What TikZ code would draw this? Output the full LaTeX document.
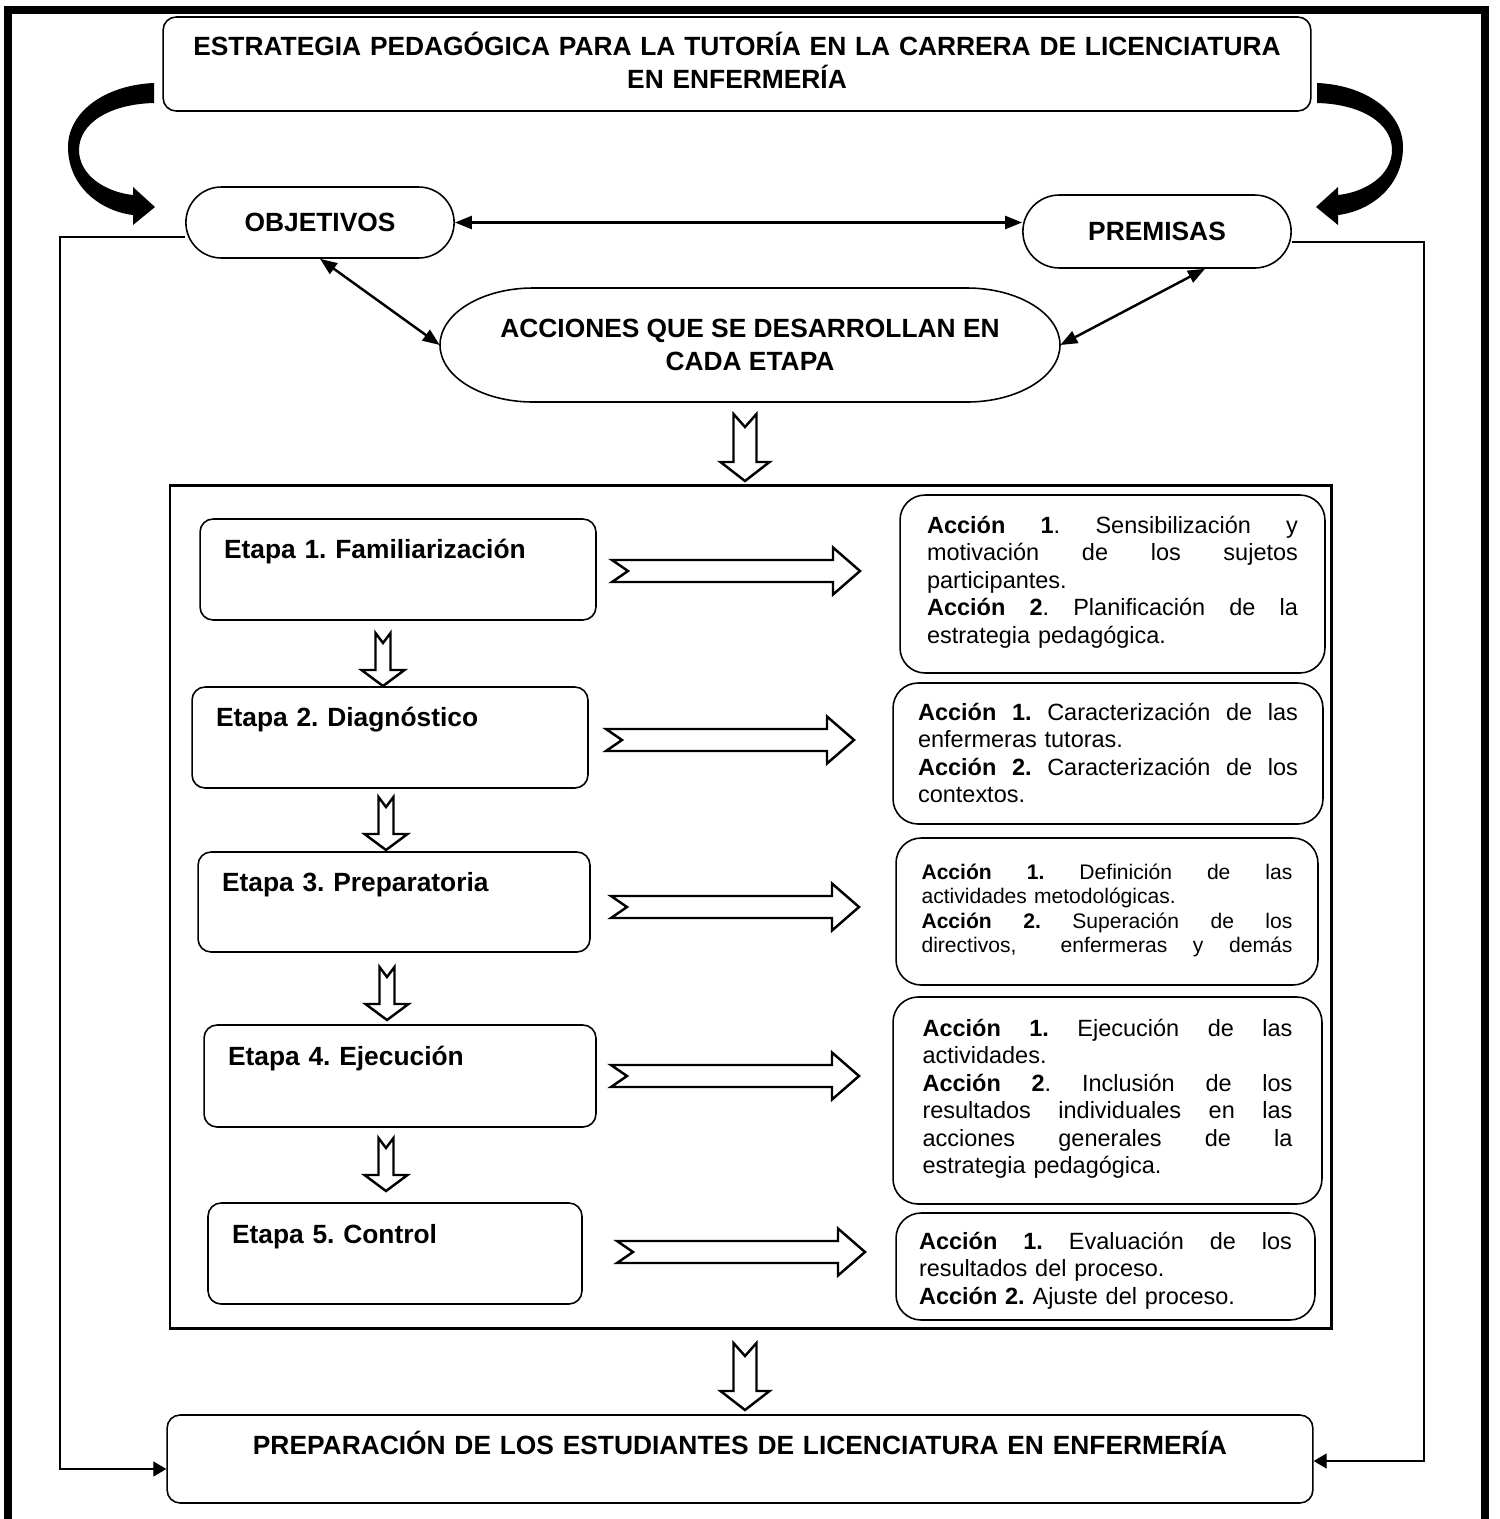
\documentclass[tikz,border=0pt]{standalone}
\usepackage{fontspec}
\setmainfont{Liberation Sans}
\usetikzlibrary{shapes,arrows.meta,positioning,calc}

% justified line of a given width
\newcommand{\jl}[2]{\leavevmode\hbox to #1{#2}}

\begin{document}
\frenchspacing
\begin{tikzpicture}[x=0.02cm, y=-0.02cm,
    bigfont/.style={font=\fontsize{15}{18.8}\selectfont\bfseries},
    box/.style={rectangle, draw, line width=0.9pt, rounded corners=0.26cm, inner sep=0pt},
    headbox/.style={box, bigfont, align=center},
    pill/.style={rounded rectangle, draw, line width=0.9pt, bigfont, minimum width=5.6cm, minimum height=1.42cm},
    etapa/.style={box, bigfont, align=left, inner xsep=0.48cm, text height=0.78cm, text depth=1.24cm},
    accion/.style={box, rounded corners=0.5cm, align=left, font=\fontsize{13.37}{15.65}\selectfont},
    dblarrow/.style={{Triangle[length=0.34cm,width=0.26cm]}-{Triangle[length=0.34cm,width=0.26cm]}, line width=1.4pt},
    feedback/.style={-{Triangle[length=0.26cm,width=0.3cm]}, line width=0.75pt},
    hollow/.style={draw, fill=white, line width=1.4pt},
    curvedarr/.pic={\fill (0,0) .. controls (-49,2) and (-86,29) .. (-86,64) .. controls (-86,103) and (-54,128) .. (-21,132) -- (-21,142) -- (1,124) -- (-21,104) -- (-21,112) .. controls (-49,109) and (-75,92) .. (-75,67) .. controls (-75,40) and (-44,21) .. (0,20) -- cycle;},
    smalldown/.pic={\draw[hollow] (-7.5,0) -- (0,10) -- (7.5,0) -- (7.5,37) -- (21.5,37) -- (0,53) -- (-21.5,37) -- (-7.5,37) -- cycle;},
    bigdown/.pic={\draw[hollow] (-11.5,0) -- (0,13) -- (11.5,0) -- (11.5,48) -- (24.5,48) -- (0,67) -- (-24.5,48) -- (-11.5,48) -- cycle;},
    bigright/.pic={\draw[hollow] (0,-11) -- (221,-11) -- (221,-23.5) -- (248,0) -- (221,23.5) -- (221,11) -- (0,11) -- (16,0) -- cycle;}
]
\useasboundingbox (0,0) rectangle (1499,1519);

% outer and inner frames
\draw[line width=0.16cm] (8,1519) -- (8,10) -- (1485,10) -- (1485,1519);
\draw[line width=1.7pt] (170,485) rectangle (1331,1328);

% Title
\node[headbox, text width=22.96cm, text height=0.76cm, text depth=1.12cm] (title) at (737,64) {ESTRATEGIA PEDAGÓGICA PARA LA TUTORÍA EN LA CARRERA DE LICENCIATURA\\EN ENFERMERÍA};

% curved arrows from the title
\pic at (154,83) {curvedarr};
\pic[xscale=-1] at (1317,83) {curvedarr};

% Objectives, premises and actions
\node[pill] (obj) at (320,222.5) {OBJETIVOS};
\node[pill, minimum height=1.46cm] (prem) at (1157,231.5) {PREMISAS};
\node[bigfont, align=center, minimum width=12.4cm, minimum height=2.28cm] (acc) at (750,345) {ACCIONES QUE SE DESARROLLAN EN\\CADA ETAPA};
\draw[line width=0.9pt] (533,288) -- (967,288) .. controls (1018,288) and (1060,313.5) .. (1060,345) .. controls (1060,376.5) and (1018,402) .. (967,402) -- (533,402) .. controls (482,402) and (440,376.5) .. (440,345) .. controls (440,313.5) and (482,288) .. (533,288) -- cycle;

\draw[dblarrow] (obj.east) -- (obj.east -| prem.west);
\draw[dblarrow] (obj.south) -- (acc.west);
\draw[dblarrow] ([xshift=0.96cm]prem.south) -- (acc.east);

\pic at (745,414) {bigdown};

% Stages
\node[etapa, text width=6.96cm] (e1) at (398,569.5) {Etapa 1. Familiarización};
\node[etapa, text width=6.96cm] (e2) at (390,737.5) {Etapa 2. Diagnóstico};
\node[etapa, text width=6.88cm, text depth=1.22cm] (e3) at (394,902) {Etapa 3. Preparatoria};
\node[etapa, text width=6.88cm, text height=0.8cm] (e4) at (400,1076) {Etapa 4. Ejecución};
\node[etapa, text width=6.52cm, text height=0.8cm, text depth=1.22cm] (e5) at (395,1253.5) {Etapa 5. Control};

\pic at (383,633) {smalldown};
\pic at (386,797) {smalldown};
\pic at (387,967) {smalldown};
\pic at (386,1138) {smalldown};

% Actions of each stage
\node[accion, text width=7.42cm, inner xsep=0.54cm, text height=0.76cm, text depth=2.8cm] (a1) at (1112.5,584) {%
\jl{7.42cm}{\textbf{Acción} \hfill\textbf{1}. \hfill Sensibilización \hfill y}\\
\jl{7.42cm}{motivación \hfill de \hfill los \hfill sujetos}\\
participantes.\\
\jl{7.42cm}{\textbf{Acción} \hfill\textbf{2}. \hfill Planificación \hfill de \hfill la}\\
estrategia pedagógica.};
\node[accion, text width=7.6cm, inner xsep=0.5cm, text height=0.74cm, text depth=2.08cm] (a2) at (1108,753.5) {%
\jl{7.6cm}{\textbf{Acción} \hfill\textbf{1.} \hfill Caracterización \hfill de \hfill las}\\
enfermeras tutoras.\\
\jl{7.6cm}{\textbf{Acción} \hfill\textbf{2.} \hfill Caracterización \hfill de \hfill los}\\
contextos.};
\node[accion, font=\fontsize{12}{14}\selectfont, text width=7.42cm, inner xsep=0.51cm, text height=0.82cm, text depth=2.12cm] (a3) at (1107,911.5) {%
\jl{7.42cm}{\textbf{Acción} \hfill\textbf{1.} \hfill Definición \hfill de \hfill las}\\
actividades metodológicas.\\
\jl{7.42cm}{\textbf{Acción} \hfill\textbf{2.} \hfill Superación \hfill de \hfill los}\\
\jl{7.42cm}{directivos, \hfill\hfill enfermeras \hfill y \hfill demás}};
\node[accion, text width=7.4cm, inner xsep=0.59cm, text height=0.78cm, text depth=3.36cm] (a4) at (1107.5,1100.5) {%
\jl{7.4cm}{\textbf{Acción} \hfill\textbf{1.} \hfill Ejecución \hfill de \hfill las}\\
actividades.\\
\jl{7.4cm}{\textbf{Acción} \hfill\textbf{2}. \hfill Inclusión \hfill de \hfill los}\\
\jl{7.4cm}{resultados \hfill individuales \hfill en \hfill las}\\
\jl{7.4cm}{acciones \hfill generales \hfill de \hfill la}\\
estrategia pedagógica.};
\node[accion, text width=7.46cm, inner xsep=0.46cm, text height=0.72cm, text depth=1.42cm] (a5) at (1105.5,1266.5) {%
\jl{7.46cm}{\textbf{Acción} \hfill\textbf{1.} \hfill Evaluación \hfill de \hfill los}\\
resultados del proceso.\\
\textbf{Acción 2.} Ajuste del proceso.};

\pic at (612,571) {bigright};
\pic at (606,740) {bigright};
\pic at (611,907) {bigright};
\pic at (611,1076) {bigright};
\pic at (617,1252) {bigright};

% Result
\pic at (745,1343) {bigdown};
\node[headbox, text width=22.92cm, text height=0.78cm, text depth=0.98cm] (bot) at (740,1459) {PREPARACIÓN DE LOS ESTUDIANTES DE LICENCIATURA EN ENFERMERÍA};

% feedback lines
\coordinate (lrail) at (60,800);
\coordinate (rrail) at (1424,800);
\draw[feedback] ([yshift=-0.29cm]obj.west) -| (lrail) |- ([yshift=-0.2cm]bot.west);
\draw[feedback] ([yshift=-0.21cm]prem.east) -| (rrail) |- ([yshift=-0.04cm]bot.east);

\end{tikzpicture}
\end{document}
